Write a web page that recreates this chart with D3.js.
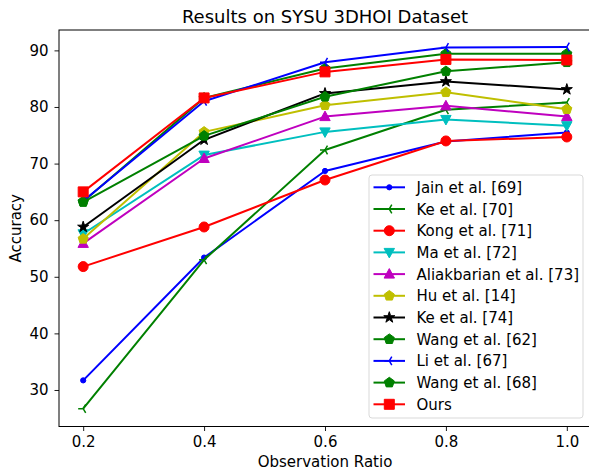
<!DOCTYPE html>
<html>
<head>
<meta charset="utf-8">
<script src="https://cdn.jsdelivr.net/npm/d3@7"></script>
<style>
  body { margin: 0; background: #fff; }
  text { font-family: "DejaVu Sans", sans-serif; }
</style>
</head>
<body>
<svg id="chart"></svg>
<script>
const ratios = [0.2, 0.4, 0.6, 0.8, 1.0];
const xTicks = [0.2, 0.4, 0.6, 0.8, 1.0];
const yTicks = [30, 40, 50, 60, 70, 80, 90];

const jain69 = [31.7, 53.4, 68.7, 73.9, 75.5];
const ke70 = [26.7, 53.0, 72.4, 79.5, 80.8];
const kong71 = [51.8, 58.8, 67.1, 74.0, 74.7];
const ma72 = [57.6, 71.5, 75.6, 77.8, 76.7];
const ali73 = [55.9, 70.9, 78.3, 80.2, 78.3];
const hu14 = [56.7, 75.6, 80.3, 82.6, 79.6];
const ke74 = [58.8, 74.2, 82.4, 84.5, 83.1];
const wang62 = [63.3, 81.6, 86.8, 89.4, 89.4];
const li67 = [63.4, 81.0, 87.9, 90.5, 90.6];
const wang68 = [63.2, 74.9, 81.8, 86.3, 87.9];
const ours = [65.0, 81.6, 86.2, 88.4, 88.3];

const seriesNames = ["Jain et al. [69]", "Ke et al. [70]", "Kong et al. [71]", "Ma et al. [72]",
  "Aliakbarian et al. [73]", "Hu et al. [14]", "Ke et al. [74]", "Wang et al. [62]",
  "Li et al. [67]", "Wang et al. [68]", "Ours"];
const seriesValues = [jain69, ke70, kong71, ma72, ali73, hu14, ke74, wang62, li67, wang68, ours];
const seriesColors = ["#0000ff", "#008000", "#ff0000", "#00bfbf", "#bf00bf", "#bfbf00",
  "#000000", "#008000", "#0000ff", "#008000", "#ff0000"];
const seriesMarkers = ["point", "tri", "circle", "down", "up", "pentagon", "star",
  "pentagon", "tri", "pentagon", "square"];

const width = 589, height = 471;
const plotLeft = 59, plotRight = 591, plotTop = 30, plotBottom = 426.5;

const svg = d3.select("#chart").attr("width", width).attr("height", height);

const x = d3.scaleLinear().domain([0.16, 1.04]).range([plotLeft, plotRight]);
const y = d3.scaleLinear().domain([23.55, 93.6]).range([plotBottom, plotTop]);

// marker path around (0,0)
function markerPath(kind) {
  if (kind === "point") return d3.symbol(d3.symbolCircle, Math.PI * 2.6 * 2.6)();
  if (kind === "circle") return d3.symbol(d3.symbolCircle, Math.PI * 25)();
  if (kind === "square") return "M-5,-5H5V5H-5Z";
  if (kind === "star") return d3.symbol(d3.symbolStar, 38)();
  if (kind === "up" || kind === "down") {
    const s = kind === "up" ? -1 : 1;
    return `M0,${s * 5.5}L${5.2},${-s * 4}L${-5.2},${-s * 4}Z`;
  }
  if (kind === "pentagon") {
    const pts = d3.range(5).map(i => {
      const a = -Math.PI / 2 + i * 2 * Math.PI / 5;
      return [Math.cos(a) * 5.3, Math.sin(a) * 5.3];
    });
    return "M" + pts.map(p => p.join(",")).join("L") + "Z";
  }
  if (kind === "tri") {
    return "M0,0L-5,0M0,0L2.5,-4.3M0,0L2.5,4.3";
  }
}

// axes
const xAxis = d3.axisBottom(x).tickValues(xTicks).tickFormat(d3.format(".1f")).tickSize(4.5).tickPadding(5.5);
const yAxis = d3.axisLeft(y).tickValues(yTicks).tickSize(4.5).tickPadding(6);

const gx = svg.append("g").attr("transform", `translate(0,${plotBottom})`).call(xAxis);
const gy = svg.append("g").attr("transform", `translate(${plotLeft},0)`).call(yAxis);
[gx, gy].forEach(g => {
  g.select(".domain").remove();
  g.selectAll("line").attr("stroke", "#000").attr("stroke-width", 0.9);
  g.selectAll("text").attr("font-size", 15).attr("fill", "#000").attr("font-family", "DejaVu Sans");
});

// data lines
const line = d3.line().x((d, i) => x(ratios[i])).y(d => y(d));
seriesValues.forEach((vals, k) => {
  const color = seriesColors[k];
  svg.append("path").datum(vals).attr("d", line)
    .attr("fill", "none").attr("stroke", color).attr("stroke-width", 2)
    .attr("stroke-linejoin", "round");
  const kind = seriesMarkers[k];
  svg.selectAll(null).data(vals).enter().append("path")
    .attr("d", markerPath(kind))
    .attr("transform", (d, i) => `translate(${x(ratios[i])},${y(d)})`)
    .attr("fill", kind === "tri" ? "none" : color)
    .attr("stroke", color)
    .attr("stroke-width", kind === "tri" ? 1.5 : 1);
});

// frame
svg.append("rect").attr("x", plotLeft).attr("y", plotTop)
  .attr("width", plotRight - plotLeft).attr("height", plotBottom - plotTop)
  .attr("fill", "none").attr("stroke", "#000").attr("stroke-width", 1);

// title and labels
svg.append("text").attr("x", 325).attr("y", 23).attr("text-anchor", "middle")
  .attr("font-size", 18).text("Results on SYSU 3DHOI Dataset");
svg.append("text").attr("x", 325).attr("y", 467).attr("text-anchor", "middle")
  .attr("font-size", 15).text("Observation Ratio");
svg.append("text").attr("transform", `translate(21,${(plotTop + plotBottom) / 2}) rotate(-90)`)
  .attr("text-anchor", "middle").attr("font-size", 15).text("Accuracy");

// legend
const legend = svg.append("g");
legend.append("rect").attr("x", 369).attr("y", 175).attr("width", 214).attr("height", 243)
  .attr("rx", 3).attr("fill", "#fff").attr("fill-opacity", 0.8)
  .attr("stroke", "#d9d9d9").attr("stroke-width", 1);
seriesNames.forEach((name, k) => {
  const cy = 187.3 + k * 21.7;
  const color = seriesColors[k];
  const kind = seriesMarkers[k];
  legend.append("line").attr("x1", 373.5).attr("x2", 405).attr("y1", cy).attr("y2", cy)
    .attr("stroke", color).attr("stroke-width", 2);
  legend.append("path").attr("d", markerPath(kind))
    .attr("transform", `translate(389.3,${cy})`)
    .attr("fill", kind === "tri" ? "none" : color).attr("stroke", color)
    .attr("stroke-width", kind === "tri" ? 1.5 : 1);
  legend.append("text").attr("x", 416.5).attr("y", cy + 5.5)
    .attr("font-size", 15).text(name);
});
</script>
</body>
</html>
